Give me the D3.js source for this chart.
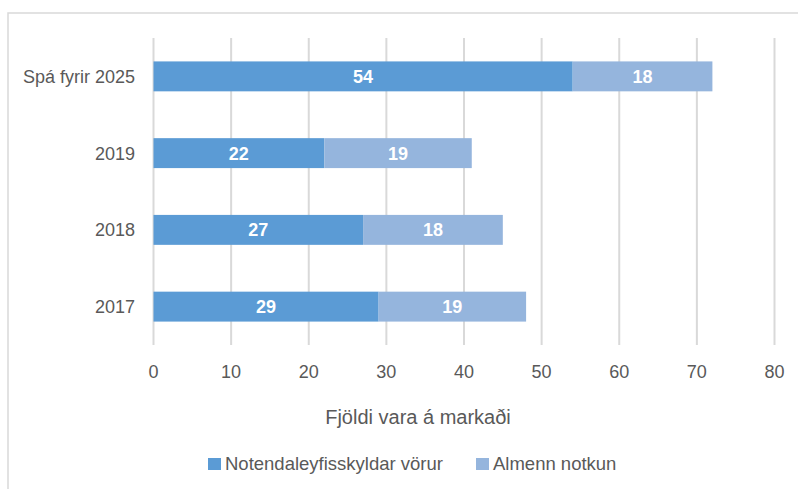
<!DOCTYPE html>
<html>
<head>
<meta charset="utf-8">
<script src="https://cdn.jsdelivr.net/npm/d3@7"></script>
<style>
  body { margin: 0; background: #fff; }
  text { font-family: "Liberation Sans", Arial, sans-serif; }
</style>
</head>
<body>
<div id="chart"></div>
<script>
let categories = ["Spá fyrir 2025", "2019", "2018", "2017"];
let notendaleyfi = [54, 22, 27, 29];
let almenn = [18, 19, 18, 19];
let seriesNames = ["Notendaleyfisskyldar vörur", "Almenn notkun"];
let colors = ["#5B9BD5", "#95B5DD"];
let xTicks = [0, 10, 20, 30, 40, 50, 60, 70, 80];

let width = 798, height = 489;
let margin = {top: 38, right: 24, bottom: 144, left: 153.5};

let svg = d3.select("#chart").append("svg")
  .attr("width", width)
  .attr("height", height);

// chart frame
svg.append("rect")
  .attr("x", 8).attr("y", 13)
  .attr("width", width + 10).attr("height", height + 10)
  .attr("fill", "none")
  .attr("stroke", "#D9D9D9")
  .attr("stroke-width", 1.5);

let x = d3.scaleLinear()
  .domain([0, 80])
  .range([margin.left, margin.left + 621]);

let y = d3.scaleBand()
  .domain(categories)
  .range([margin.top, height - margin.bottom])
  .paddingInner(0.61)
  .paddingOuter(0.305);

// gridlines
svg.append("g")
  .selectAll("line")
  .data(xTicks)
  .enter().append("line")
  .attr("x1", d => x(d)).attr("x2", d => x(d))
  .attr("y1", margin.top).attr("y2", height - margin.bottom)
  .attr("stroke", "#D9D9D9")
  .attr("stroke-width", 2);

// tick labels
svg.append("g")
  .selectAll("text")
  .data(xTicks)
  .enter().append("text")
  .attr("x", d => x(d))
  .attr("y", 378)
  .attr("text-anchor", "middle")
  .attr("fill", "#595959")
  .style("font-size", "18px")
  .text(d => d);

let rows = categories.map(function(c, i) {
  return {cat: c, a: notendaleyfi[i], b: almenn[i]};
});

let stack = d3.stack().keys(["a", "b"]);
let layers = stack(rows);

let g = svg.selectAll(".layer")
  .data(layers)
  .enter().append("g")
  .attr("class", "layer")
  .attr("fill", (d, i) => colors[i]);

g.selectAll("rect")
  .data(d => d)
  .enter().append("rect")
  .attr("x", d => x(d[0]))
  .attr("y", d => y(d.data.cat))
  .attr("width", d => x(d[1]) - x(d[0]))
  .attr("height", y.bandwidth());

g.selectAll("text")
  .data(d => d)
  .enter().append("text")
  .attr("x", d => (x(d[0]) + x(d[1])) / 2)
  .attr("y", d => y(d.data.cat) + y.bandwidth() / 2)
  .attr("dy", "0.36em")
  .attr("text-anchor", "middle")
  .attr("fill", "#fff")
  .style("font-size", "18px")
  .style("font-weight", "bold")
  .text(d => d[1] - d[0]);

// category labels
svg.append("g")
  .selectAll("text")
  .data(categories)
  .enter().append("text")
  .attr("x", 135)
  .attr("y", d => y(d) + y.bandwidth() / 2)
  .attr("dy", "0.36em")
  .attr("text-anchor", "end")
  .attr("fill", "#595959")
  .style("font-size", "18px")
  .text(d => d);

// axis title
svg.append("text")
  .attr("x", 418)
  .attr("y", 424)
  .attr("text-anchor", "middle")
  .attr("fill", "#595959")
  .style("font-size", "20px")
  .text("Fjöldi vara á markaði");

// legend
let legendX = [208, 476];
let leg = svg.selectAll(".legend")
  .data(seriesNames)
  .enter().append("g")
  .attr("class", "legend")
  .attr("transform", (d, i) => "translate(" + legendX[i] + ",464)");

leg.append("rect")
  .attr("x", 0).attr("y", -6)
  .attr("width", 13).attr("height", 12)
  .attr("fill", (d, i) => colors[i]);

leg.append("text")
  .attr("x", 17)
  .attr("y", 6)
  .attr("fill", "#595959")
  .style("font-size", "18.5px")
  .text(d => d);
</script>
</body>
</html>
